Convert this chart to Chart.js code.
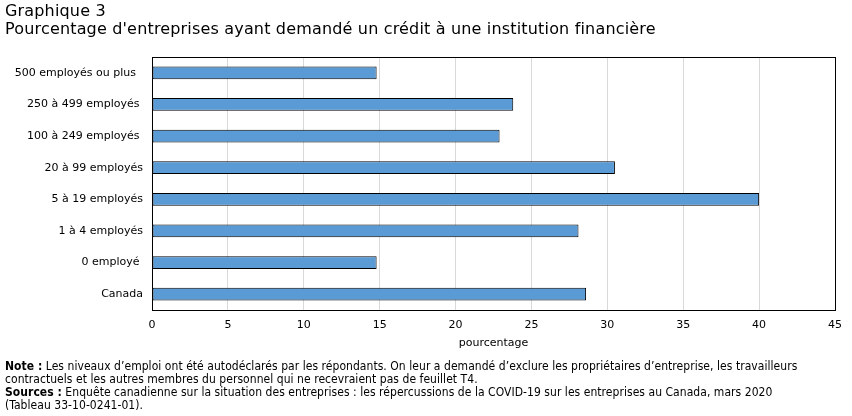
<!DOCTYPE html>
<html lang="fr">
<head>
<meta charset="utf-8">
<script src="https://cdn.jsdelivr.net/npm/chart.js@4/dist/chart.umd.min.js"></script>
<style>
    body { margin: 0; background: #fff; }
    #wrap { position: relative; width: 852px; height: 416px; overflow: hidden; font-family: "DejaVu Sans", Verdana, sans-serif; color: #000; }
    #wrap canvas { position: absolute; left: 0; top: 0; }
    .title { position: absolute; left: 5px; top: 2px; font-size: 16px; line-height: 18px; letter-spacing: 0.17px; }
    .notes { position: absolute; left: 5px; top: 360px; font-family: "DejaVu Sans Condensed", "DejaVu Sans", sans-serif; font-size: 12px; line-height: 13px; letter-spacing: 0.05px; }
</style>
</head>
<body>
<div id="wrap">
    <canvas id="chart" width="852" height="416"></canvas>
    <div class="title">Graphique 3<br>Pourcentage d'entreprises ayant demandé un crédit à une institution financière</div>
    <div class="notes">
        <b>Note :</b> Les niveaux d’emploi ont été autodéclarés par les répondants. On leur a demandé d’exclure les propriétaires d’entreprise, les travailleurs<br>
        contractuels et les autres membres du personnel qui ne recevraient pas de feuillet T4.<br>
        <b>Sources :</b> Enquête canadienne sur la situation des entreprises : les répercussions de la COVID-19 sur les entreprises au Canada, mars 2020<br>
        (Tableau 33-10-0241-01).
    </div>
</div>
<script>
// Data
const categories = ['500 employés ou plus  ', '250 à 499 employés ', '100 à 249 employés ', '20 à 99 employés',
    '5 à 19 employés', '1 à 4 employés', '0 employé ', 'Canada'];
const percentages = [14.8, 23.8, 22.9, 30.5, 40.0, 28.1, 14.8, 28.6];
const xMin = 0;
const xMax = 45;
const xStep = 5;
const axisTitle = 'pourcentage';

// Frame round the plot area
const frame = {
    id: 'frame',
    afterDraw(chart) {
        const { ctx, chartArea: a } = chart;
        ctx.save();
        ctx.strokeStyle = '#000';
        ctx.lineWidth = 1;
        ctx.strokeRect(Math.round(a.left) + 0.5, Math.round(a.top) + 0.5,
            Math.round(a.right - a.left), Math.round(a.bottom - a.top));
        ctx.restore();
    }
};

const font = { family: '"DejaVu Sans", Verdana, sans-serif', size: 11 };

new Chart(document.getElementById('chart'), {
    type: 'bar',
    data: {
        labels: categories,
        datasets: [{
            data: percentages,
            backgroundColor: '#5b9bd5',
            borderColor: '#000',
            borderWidth: 1,
            borderSkipped: false,
            barPercentage: 0.4,
            categoryPercentage: 1
        }]
    },
    options: {
        indexAxis: 'y',
        responsive: false,
        animation: false,
        layout: { padding: { top: 57, right: 17, bottom: 61, left: 0 } },
        plugins: {
            legend: { display: false },
            tooltip: { enabled: false }
        },
        scales: {
            x: {
                min: xMin,
                max: xMax,
                ticks: { stepSize: xStep, color: '#000', font: font, padding: 9 },
                grid: { color: '#d9d9d9', drawTicks: false },
                border: { display: false },
                title: { display: true, text: axisTitle, color: '#000', font: font, padding: { top: 4, bottom: 5 } },
                afterFit(scale) { scale.height = 45; }
            },
            y: {
                ticks: { color: '#000', font: font, padding: 9 },
                grid: { display: false, drawTicks: false },
                border: { display: false },
                afterFit(scale) { scale.width = 152; }
            }
        }
    },
    plugins: [frame]
});
</script>
</body>
</html>
